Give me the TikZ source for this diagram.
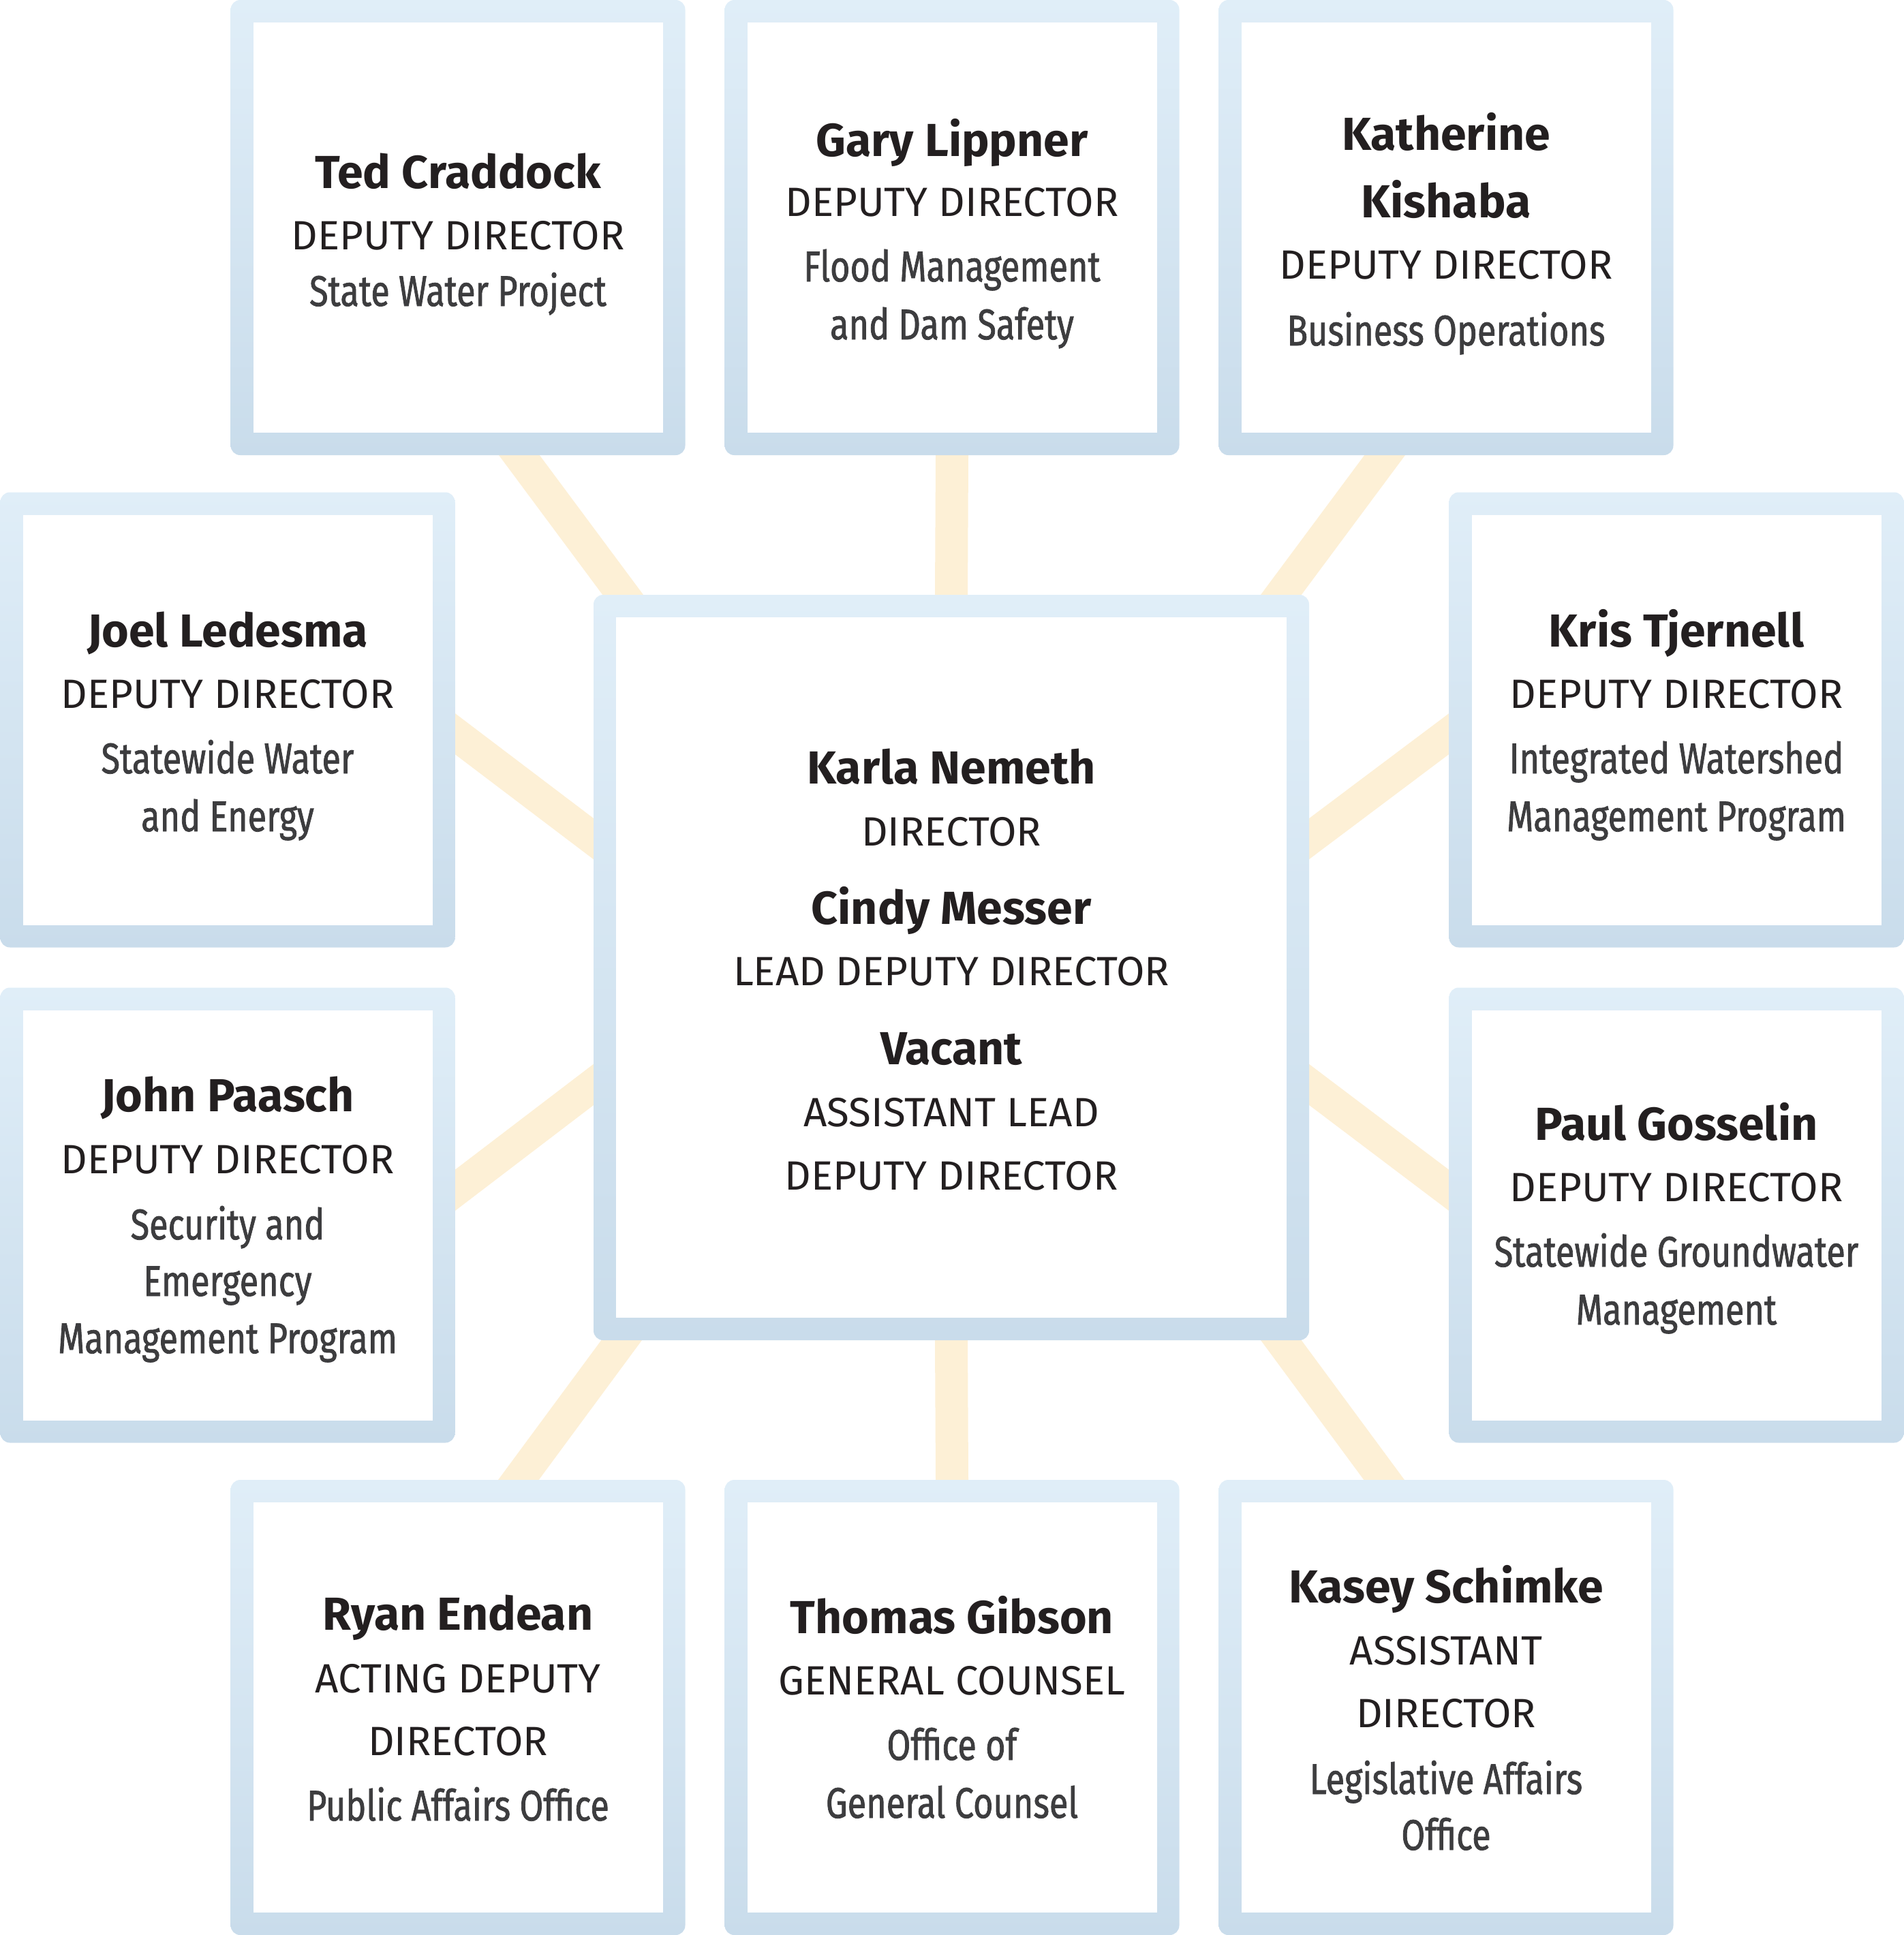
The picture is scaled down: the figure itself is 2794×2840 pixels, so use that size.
\documentclass[tikz,border=0pt]{standalone}
\usepackage{fontspec}
\setmainfont{Fira Sans}
\newfontfamily\deptfamily[FakeStretch=0.8,FakeBold=1.2]{Fira Sans}
\usetikzlibrary{calc}
\definecolor{bordertop}{HTML}{E0EEF8}
\definecolor{borderbot}{HTML}{C9DCEB}
\definecolor{conncol}{HTML}{FDF0D6}
\definecolor{txtdark}{HTML}{231F20}
\definecolor{txtgray}{HTML}{3D3D3F}
\pgfdeclarelayer{bg}
\pgfsetlayers{bg,main}
\begin{document}
\begin{tikzpicture}[x=1pt,y=-1pt,
  orgbox/.style={rectangle, rounded corners=14pt, minimum width=667pt, minimum height=668pt,
    inner sep=0pt, top color=bordertop, bottom color=borderbot,
    path picture={\fill[white, sharp corners] ([xshift=33pt,yshift=-33pt]path picture bounding box.north west)
      rectangle ([xshift=-33pt,yshift=33pt]path picture bounding box.south east);}},
  bigbox/.style={orgbox, minimum width=1050pt, minimum height=1094pt},
  nm/.style={anchor=base, inner sep=0pt, text=txtdark, font=\fontsize{68}{68}\selectfont\bfseries},
  ttl/.style={anchor=base, inner sep=0pt, text=txtdark, font=\fontsize{60}{60}\selectfont},
  dp/.style={anchor=base, inner sep=0pt, text=txtgray, font=\deptfamily\fontsize{63}{63}\selectfont},
  conn/.style={draw=conncol, line width=48pt, shorten <=-40pt, shorten >=-40pt}
]
\useasboundingbox (0,0) rectangle (2794,2840);

% boxes
\node[bigbox] (dir) at (1396,1420) {};
\node[orgbox] (ted)   at (672,334)   {};
\node[orgbox] (gary)  at (1397,334)  {};
\node[orgbox] (kath)  at (2122,334)  {};
\node[orgbox] (joel)  at (334,1056.5)  {};
\node[orgbox] (kris)  at (2460,1056.5) {};
\node[orgbox] (john)  at (334,1783.5)  {};
\node[orgbox] (paul)  at (2460,1783.5) {};
\node[orgbox] (ryan)  at (672,2506)  {};
\node[orgbox] (thom)  at (1397,2506) {};
\node[orgbox] (kasey) at (2122,2506) {};

% connector end points
\coordinate (ted-e)  at ([xshift=90pt]ted.south);
\coordinate (dir-t1) at ([xshift=-482pt]dir.north);
\coordinate (kath-e) at ([xshift=-90pt]kath.south);
\coordinate (dir-t3) at ([xshift=484pt]dir.north);
\coordinate (joel-e) at ([yshift=-20.5pt]joel.east);
\coordinate (dir-l1) at ([yshift=189pt]dir.west);
\coordinate (john-e) at ([yshift=36.5pt]john.east);
\coordinate (dir-l2) at ([yshift=-172pt]dir.west);
\coordinate (kris-e) at ([yshift=-20.5pt]kris.west);
\coordinate (dir-r1) at ([yshift=189pt]dir.east);
\coordinate (paul-e) at ([yshift=36.5pt]paul.west);
\coordinate (dir-r2) at ([yshift=-172pt]dir.east);
\coordinate (ryan-e) at ([xshift=89pt]ryan.north);
\coordinate (dir-b1) at ([xshift=-484pt]dir.south);
\coordinate (kasey-e) at ([xshift=-91pt]kasey.north);
\coordinate (dir-b3) at ([xshift=484pt]dir.south);

\begin{pgfonlayer}{bg}
\draw[conn] (ted-e) -- (dir-t1);
\draw[conn] (gary.south) -- (dir.north);
\draw[conn] (kath-e) -- (dir-t3);
\draw[conn] (joel-e) -- (dir-l1);
\draw[conn] (john-e) -- (dir-l2);
\draw[conn] (kris-e) -- (dir-r1);
\draw[conn] (paul-e) -- (dir-r2);
\draw[conn] (ryan-e) -- (dir-b1);
\draw[conn] (thom.north) -- (dir.south);
\draw[conn] (kasey-e) -- (dir-b3);
\end{pgfonlayer}

% texts
\node[nm]  (ted-1) at (672,276) {Ted Craddock};
\node[ttl] (ted-2) at (672,366) {DEPUTY DIRECTOR};
\node[dp]  (ted-3) at (672,449) {State Water Project};

\node[nm]  (gary-1) at (1397,229) {Gary Lippner};
\node[ttl] (gary-2) at (1397,317) {DEPUTY DIRECTOR};
\node[dp]  (gary-3) at (1397,413) {Flood Management};
\node[dp]  (gary-4) at (1397,498) {and Dam Safety};

\node[nm]  (kath-1) at (2122,220) {Katherine};
\node[nm]  (kath-2) at (2122,319) {Kishaba};
\node[ttl] (kath-3) at (2122,409) {DEPUTY DIRECTOR};
\node[dp]  (kath-4) at (2122,507) {Business Operations};

\node[nm]  (joel-1) at (334,949) {Joel Ledesma};
\node[ttl] (joel-2) at (334,1039) {DEPUTY DIRECTOR};
\node[dp]  (joel-3) at (334,1135) {Statewide Water};
\node[dp]  (joel-4) at (334,1220) {and Energy};

\node[nm]  (kris-1) at (2460,949) {Kris Tjernell};
\node[ttl] (kris-2) at (2460,1039) {DEPUTY DIRECTOR};
\node[dp]  (kris-3) at (2460,1135) {Integrated Watershed};
\node[dp]  (kris-4) at (2460,1220) {Management Program};

\node[nm]  (dir-1) at (1396,1150) {Karla Nemeth};
\node[ttl] (dir-2) at (1396,1241) {DIRECTOR};
\node[nm]  (dir-3) at (1396,1356) {Cindy Messer};
\node[ttl] (dir-4) at (1396,1446) {LEAD DEPUTY DIRECTOR};
\node[nm]  (dir-5) at (1396,1562) {Vacant};
\node[ttl] (dir-6) at (1396,1653) {ASSISTANT LEAD};
\node[ttl] (dir-7) at (1396,1746) {DEPUTY DIRECTOR};

\node[nm]  (john-1) at (334,1631) {John Paasch};
\node[ttl] (john-2) at (334,1722) {DEPUTY DIRECTOR};
\node[dp]  (john-3) at (334,1819) {Security and};
\node[dp]  (john-4) at (334,1902) {Emergency};
\node[dp]  (john-5) at (334,1986) {Management Program};

\node[nm]  (paul-1) at (2460,1673) {Paul Gosselin};
\node[ttl] (paul-2) at (2460,1763) {DEPUTY DIRECTOR};
\node[dp]  (paul-3) at (2460,1859) {Statewide Groundwater};
\node[dp]  (paul-4) at (2460,1944) {Management};

\node[nm]  (ryan-1) at (672,2392) {Ryan Endean};
\node[ttl] (ryan-2) at (672,2484) {ACTING DEPUTY};
\node[ttl] (ryan-3) at (672,2576) {DIRECTOR};
\node[dp]  (ryan-4) at (672,2672) {Public Affairs Office};

\node[nm]  (thom-1) at (1397,2397) {Thomas Gibson};
\node[ttl] (thom-2) at (1397,2487) {GENERAL COUNSEL};
\node[dp]  (thom-3) at (1397,2583) {Office of};
\node[dp]  (thom-4) at (1397,2668) {General Counsel};

\node[nm]  (kasey-1) at (2122,2352) {Kasey Schimke};
\node[ttl] (kasey-2) at (2122,2443) {ASSISTANT};
\node[ttl] (kasey-3) at (2122,2535) {DIRECTOR};
\node[dp]  (kasey-4) at (2122,2633) {Legislative Affairs};
\node[dp]  (kasey-5) at (2122,2715) {Office};
\end{tikzpicture}
\end{document}
